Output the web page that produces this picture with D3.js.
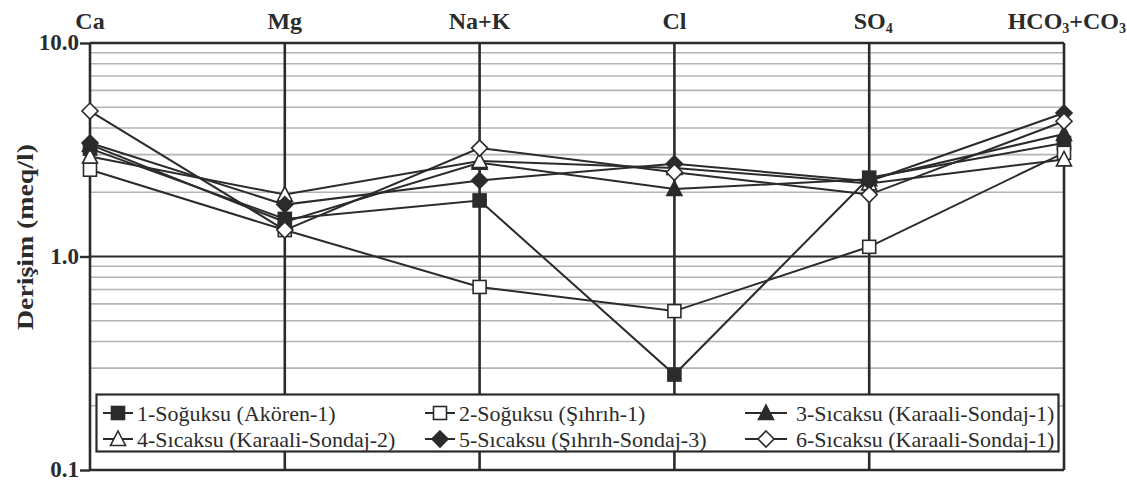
<!DOCTYPE html>
<html><head><meta charset="utf-8">
<script src="https://cdn.jsdelivr.net/npm/d3@7"></script>
<style>html,body{margin:0;padding:0;background:#fff;}svg{display:block;}
svg text{font-family:"Liberation Serif","Times New Roman","DejaVu Serif",serif;}</style>
</head><body>
<svg id="chart" width="1127" height="483"></svg>
<script>
const ions = ["Ca","Mg","Na+K","Cl","SO4","HCO3+CO3"];
const seriesNames = [
  "1-Soğuksu (Akören-1)",
  "2-Soğuksu (Şıhrıh-1)",
  "3-Sıcaksu (Karaali-Sondaj-1)",
  "4-Sıcaksu (Karaali-Sondaj-2)",
  "5-Sıcaksu (Şıhrıh-Sondaj-3)",
  "6-Sıcaksu (Karaali-Sondaj-1)"
];
const s1 = [3.2, 1.5, 1.83, 0.28, 2.34, 3.4];
const s2 = [2.55, 1.33, 0.72, 0.555, 1.11, 3.06];
const s3 = [3.34, 1.45, 2.75, 2.07, 2.3, 3.75];
const s4 = [2.94, 1.95, 2.8, 2.6, 2.2, 2.85];
const s5 = [3.4, 1.75, 2.27, 2.72, 2.25, 4.7];
const s6 = [4.8, 1.33, 3.22, 2.48, 1.95, 4.3];
const seriesValues = [s1, s2, s3, s4, s5, s6];
const markerTypes = ["squareF","squareO","triF","triO","diaF","diaO"];
const yTicks = [0.1, 1, 10];
const yTickLabels = ["0.1","1.0","10.0"];

const svg = d3.select("#chart");
const mLeft = 90, mRight = 1064, mTop = 43, mBottom = 470;
const x = d3.scalePoint().domain(ions).range([mLeft, mRight]);
const y = d3.scaleLog().domain([0.1, 10]).range([mBottom, mTop]);
const ink = "#2b2b2b";

// minor grid
const minor = [];
[0.1, 1].forEach(d => { for (let k = 2; k <= 9; k++) minor.push(d * k); });
svg.append("g").selectAll("line").data(minor).join("line")
  .attr("x1", mLeft).attr("x2", mRight)
  .attr("y1", d => y(d)).attr("y2", d => y(d))
  .attr("stroke", "#b4b4b4").attr("stroke-width", 1.6);

// major line at 1.0
svg.append("line").attr("x1", mLeft).attr("x2", mRight)
  .attr("y1", y(1)).attr("y2", y(1)).attr("stroke", ink).attr("stroke-width", 2.2);

// vertical ion lines
svg.append("g").selectAll("line").data(ions).join("line")
  .attr("x1", d => x(d)).attr("x2", d => x(d))
  .attr("y1", mTop).attr("y2", mBottom)
  .attr("stroke", ink).attr("stroke-width", 2.6);

// frame top and bottom
svg.append("line").attr("x1", mLeft).attr("x2", mRight).attr("y1", y(10)).attr("y2", y(10))
  .attr("stroke", ink).attr("stroke-width", 2.6);
svg.append("line").attr("x1", mLeft).attr("x2", mRight).attr("y1", y(0.1)).attr("y2", y(0.1))
  .attr("stroke", ink).attr("stroke-width", 2.6);

// y axis ticks and labels
const yAxis = d3.axisLeft(y).tickValues(yTicks).tickSize(10)
  .tickFormat((d, i) => yTickLabels[i]);
const ga = svg.append("g").attr("transform", `translate(${mLeft},0)`).call(yAxis);
ga.attr("font-family", null);
ga.select(".domain").remove();
ga.selectAll(".tick line").attr("stroke", ink).attr("stroke-width", 2.4);
ga.selectAll(".tick text")
  .attr("font-weight", "bold").attr("font-size", 23).attr("fill", ink)
  .attr("x", -11).attr("dy", "0.3em");

// y title
svg.append("text").attr("transform", "translate(33,237) rotate(-90)")
  .attr("text-anchor", "middle")
  .attr("font-weight", "bold").attr("font-size", 24).attr("fill", ink)
  .attr("textLength", 186).attr("lengthAdjust", "spacingAndGlyphs")
  .text("Derişim (meq/l)");

// top labels
const topLab = svg.append("g");
ions.forEach(ion => {
  const t = topLab.append("text").attr("x", x(ion)).attr("y", 29)
    .attr("text-anchor", "middle")
    .attr("font-weight", "bold").attr("font-size", 24).attr("fill", ink);
  if (ion === "SO4") {
    t.attr("x", x(ion) + 4);
    t.append("tspan").text("SO");
    t.append("tspan").attr("font-size", 14).attr("dy", 4).text("4");
  } else if (ion === "HCO3+CO3") {
    t.attr("text-anchor", "end").attr("x", 1126);
    t.append("tspan").text("HCO");
    t.append("tspan").attr("font-size", 14).attr("dy", 4).text("3");
    t.append("tspan").attr("dy", -4).text("+CO");
    t.append("tspan").attr("font-size", 14).attr("dy", 4).text("3");
  } else {
    t.text(ion);
  }
});

// markers
function drawMarker(g, type, cx, cy) {
  const filled = type.endsWith("F");
  const fill = filled ? ink : "#fff";
  let el;
  if (type.startsWith("square")) {
    el = g.append("rect").attr("x", cx - 6.5).attr("y", cy - 6.5).attr("width", 13).attr("height", 13);
  } else if (type.startsWith("tri")) {
    el = g.append("path").attr("d", `M${cx},${cy - 8}L${cx + 7.5},${cy + 6.5}L${cx - 7.5},${cy + 6.5}Z`);
  } else {
    el = g.append("path").attr("d", `M${cx},${cy - 8}L${cx + 8},${cy}L${cx},${cy + 8}L${cx - 8},${cy}Z`);
  }
  el.attr("fill", fill).attr("stroke", ink).attr("stroke-width", 1.6);
}

const line = d3.line().x((d, i) => x(ions[i])).y(d => y(d));
const gs = svg.append("g");
seriesValues.forEach((vals, si) => {
  gs.append("path").datum(vals).attr("d", line)
    .attr("fill", "none").attr("stroke", ink).attr("stroke-width", 2);
});
seriesValues.forEach((vals, si) => {
  const g = gs.append("g");
  vals.forEach((v, i) => drawMarker(g, markerTypes[si], x(ions[i]), y(v)));
});

// legend
const lg = svg.append("g");
lg.append("rect").attr("x", 96.5).attr("y", 394.5).attr("width", 962).attr("height", 57)
  .attr("fill", "#fff").attr("stroke", ink).attr("stroke-width", 2.2);
const legendPos = [
  [103, 413, 30], [425, 413, 30], [745, 413, 42],
  [103, 439, 30], [425, 439, 30], [745, 439, 42]
];
legendPos.forEach(([lx, ly, len], si) => {
  lg.append("line").attr("x1", lx).attr("x2", lx + len).attr("y1", ly).attr("y2", ly)
    .attr("stroke", ink).attr("stroke-width", 2);
  drawMarker(lg, markerTypes[si], lx + len / 2, ly);
  lg.append("text").attr("x", lx + len + (len > 30 ? 9 : 4)).attr("y", ly).attr("dy", "0.35em")
    .attr("font-size", 22)
    .attr("fill", ink).text(seriesNames[si]);
});
</script>
</body></html>
